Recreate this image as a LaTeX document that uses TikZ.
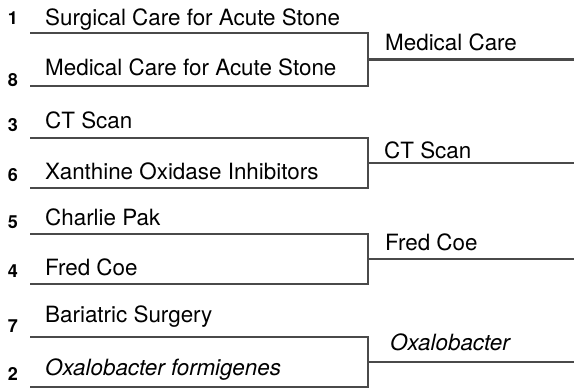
\documentclass[tikz,border=0pt]{standalone}
\usepackage{fontspec}
\setmainfont{TeX Gyre Heros}
\usepackage{xcolor}
\usepackage{tikz}
\definecolor{bracketgray}{HTML}{4A4A4A}

\begin{document}
\begin{tikzpicture}[x=1pt,y=-1pt]
\useasboundingbox (0,0) rectangle (574,389);
\tikzset{
  team/.style={anchor=base west,inner sep=0pt,font=\fontsize{22.4}{24}\selectfont},
  seed/.style={anchor=base,inner sep=0pt,font=\bfseries\fontsize{18}{20}\selectfont},
  bracket/.style={bracketgray,line width=2.5pt}
}
% one row per entrant: line y, text baseline, seed baseline
\foreach \r/\y/\ty/\sy/\s/\t in {
  a1/33/25/24/1/{Surgical Care for Acute Stone},
  b1/86/75/86/8/{Medical Care for Acute Stone},
  a2/138/128/131/3/{CT Scan},
  b2/188/179/181/6/{Xanthine Oxidase Inhibitors},
  a3/234/225/228/5/{Charlie Pak},
  b3/284/275/277/4/{Fred Coe},
  a4/337/322/332/7/{Bariatric Surgery},
  b4/387/375/380/2/{\textit{Oxalobacter formigenes}}}
{
  \coordinate (l\r) at (30,\y);
  \coordinate (j\r) at (368,\y);
  \node[team] (t\r) at (45,\ty) {\t};
  \node[seed] (s\r) at (13,\sy) {\s};
}
% brackets and winners
\foreach \k/\x/\wy/\w in {
  1/385/50/{Medical Care},
  2/384/158/{CT Scan},
  3/385/250/{Fred Coe},
  4/390/350/{\textit{Oxalobacter}}}
{
  \draw[bracket] (la\k) -- (ja\k) -- (jb\k) -- (lb\k);
  \path (ja\k) -- (jb\k) coordinate[pos=0.5] (m\k);
  \draw[bracket] (m\k) -- ++(210,0) coordinate (e\k);
  \node[team] (w\k) at (\x,\wy) {\w};
}
\end{tikzpicture}
\end{document}
